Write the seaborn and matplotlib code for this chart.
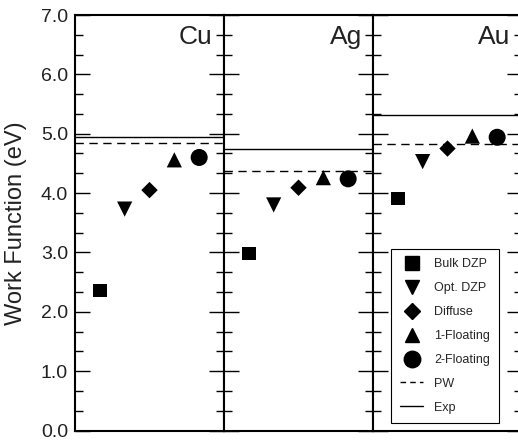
import matplotlib
matplotlib.use("Agg")
import matplotlib.pyplot as plt
from matplotlib.lines import Line2D
from matplotlib.ticker import MultipleLocator, FormatStrFormatter
import seaborn as sns
import pandas as pd

sns.set_style("ticks")
plt.rcParams["font.family"] = ["Liberation Sans", "DejaVu Sans"]

# Work functions (eV) for each basis-set treatment
metals = ["Cu", "Ag", "Au"]
methods = ["Bulk DZP", "Opt. DZP", "Diffuse", "1-Floating", "2-Floating"]
cu_wf = [2.36, 3.73, 4.05, 4.56, 4.60]
ag_wf = [2.98, 3.80, 4.09, 4.26, 4.24]
au_wf = [3.91, 4.53, 4.75, 4.96, 4.94]
pw_wf = [4.84, 4.38, 4.83]      # plane-wave reference
exp_wf = [4.94, 4.74, 5.31]     # experiment

wf_by_metal = {"Cu": cu_wf, "Ag": ag_wf, "Au": au_wf}
rows = []
for m in metals:
    for i, (meth, v) in enumerate(zip(methods, wf_by_metal[m])):
        rows.append({"metal": m, "method": meth, "pos": i + 1, "wf": v})
df = pd.DataFrame(rows)

marker_map = {"Bulk DZP": "s", "Opt. DZP": "v", "Diffuse": "D",
              "1-Floating": "^", "2-Floating": "o"}
size_map = {"Bulk DZP": 95, "Opt. DZP": 120, "Diffuse": 70,
            "1-Floating": 120, "2-Floating": 150}

fig = plt.figure(figsize=(5.18, 4.41), dpi=100)
W, H = 518.0, 441.0
left, bottom, pw_px, ph_px = 75.0, 10.5, 149.0, 415.5

axes = []
for k, m in enumerate(metals):
    ax = fig.add_axes([(left + k * pw_px) / W, bottom / H, pw_px / W, ph_px / H])
    axes.append(ax)
    sub = df[df["metal"] == m]
    sns.scatterplot(data=sub, x="pos", y="wf", style="method", markers=marker_map,
                    size="method", sizes=size_map, color="black", edgecolor="none",
                    legend=False, ax=ax, zorder=3)
    ax.axhline(exp_wf[k], color="black", lw=1.0, zorder=2)
    ax.axhline(pw_wf[k], color="black", lw=1.0, ls=(0, (6, 4)), zorder=2)
    ax.set_xlim(0, 6)
    ax.set_ylim(0, 7)
    ax.set_xticks([])
    ax.set_xlabel("")
    ax.set_ylabel("")
    ax.yaxis.set_major_locator(MultipleLocator(1.0))
    ax.yaxis.set_minor_locator(MultipleLocator(1.0 / 3.0))
    ax.yaxis.set_major_formatter(FormatStrFormatter("%.1f"))
    ax.tick_params(axis="y", which="major", direction="in", length=11, width=1.0,
                   left=True, right=True, labelsize=14, color="black", pad=5,
                   labelcolor="#222222")
    ax.tick_params(axis="y", which="minor", direction="in", length=6, width=1.0,
                   left=True, right=True, color="black")
    for sp in ax.spines.values():
        sp.set_visible(True)
        sp.set_linewidth(1.5)
        sp.set_color("black")
    if k > 0:
        ax.tick_params(axis="y", which="both", labelleft=False)
    ax.text(0.925, 0.948, m, transform=ax.transAxes, ha="right", va="center",
            fontsize=19, color="#222222")

axes[0].set_ylabel("Work Function (eV)", fontsize=17, labelpad=10, color="#222222")

handles = [Line2D([], [], ls="none", marker=marker_map[meth], color="black",
                  markersize=(size_map[meth] ** 0.5) * 0.97)
           for meth in methods]
handles.append(Line2D([], [], color="black", lw=1.0, ls=(0, (4, 3))))
handles.append(Line2D([], [], color="black", lw=1.0))
labels = methods + ["PW", "Exp"]
leg = axes[2].legend(handles, labels, loc="lower left",
                     bbox_to_anchor=((391 - 373) / pw_px, 7.5 / ph_px),
                     fontsize=9, frameon=True, fancybox=False, edgecolor="black",
                     framealpha=1, handlelength=1.8, handletextpad=0.9,
                     labelspacing=0.95, borderpad=0.75, borderaxespad=0)
leg.get_frame().set_linewidth(0.8)

fig.savefig("out.png", dpi=100)
